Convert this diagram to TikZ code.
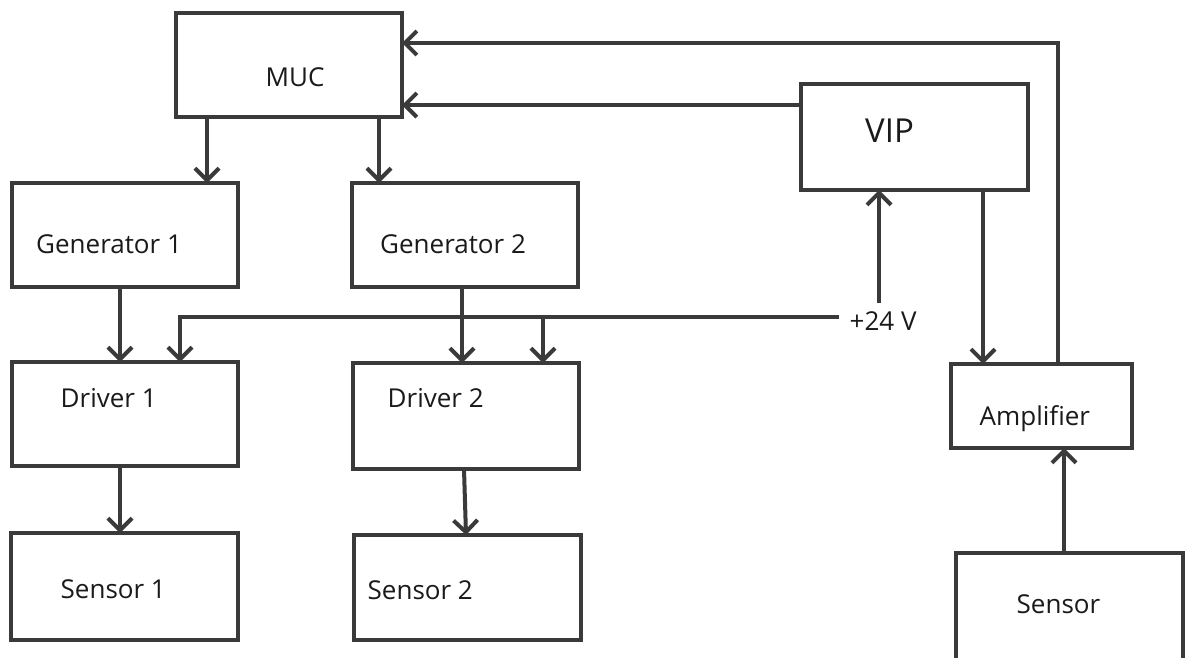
\documentclass[tikz,border=0pt]{standalone}
\usepackage{fontspec}
\setmainfont[Ligatures=NoCommon]{Open Sans}
\usetikzlibrary{arrows.meta}
\definecolor{ink}{HTML}{3A3A3A}
\definecolor{txt}{HTML}{1A1A1A}
\tikzset{
  blk/.style={draw=ink, line width=4pt, rectangle, outer sep=0pt, inner sep=0pt},
  lbl/.style={anchor=base west, inner sep=0pt, text=txt, font=\fontsize{26}{32}\selectfont},
  big/.style={lbl, font=\fontsize{33}{40}\selectfont},
  arr/.style={draw=ink, line width=4pt, line join=miter,
    -{Straight Barb[length=12pt, width=24pt, line width=4pt]}},
  wire/.style={draw=ink, line width=4pt, line join=miter}
}
\begin{document}
\begin{tikzpicture}[x=1pt, y=-1pt]
\clip (0,0) rectangle (1190,657);
\fill[white] (0,0) rectangle (1190,657);

% blocks
\node[blk, minimum width=226pt, minimum height=104pt] (muc)  at (289,65)    {};
\node[blk, minimum width=227pt, minimum height=106pt] (vip)  at (914.5,137) {};
\node[blk, minimum width=226pt, minimum height=104pt] (gen1) at (125,235)   {};
\node[blk, minimum width=226pt, minimum height=104pt] (gen2) at (465,235)   {};
\node[blk, minimum width=226pt, minimum height=104pt] (drv1) at (125,414)   {};
\node[blk, minimum width=226pt, minimum height=106pt] (drv2) at (466,416)   {};
\node[blk, minimum width=227pt, minimum height=107pt] (sen1) at (124.5,586.5) {};
\node[blk, minimum width=227pt, minimum height=105pt] (sen2) at (467.5,587.5) {};
\node[blk, minimum width=181pt, minimum height=84pt]  (amp)  at (1041.5,406) {};
\node[blk, minimum width=227pt, minimum height=147pt] (sen)  at (1069.5,626.5) {};

% labels
\node[lbl] (tmuc)  at (265.5,86)  {MUC};
\node[big] (tvip)  at (865,142)   {VIP};
\node[lbl] (tgen1) at (36,253)    {Generator 1};
\node[lbl] (tgen2) at (380,253)   {Generator 2};
\node[lbl] (tdrv1) at (60.5,407)  {Driver 1};
\node[lbl] (tdrv2) at (387.5,407) {Driver 2};
\node[lbl] (tsen1) at (60.5,598)  {Sensor 1};
\node[lbl] (tsen2) at (367.5,599) {Sensor 2};
\node[lbl] (tamp)  at (979.5,425) {Amplifier};
\node[lbl] (tsen)  at (1016.5,613) {Sensor};
\node[lbl] (tv24)  at (849.5,330) {+24 V};

% control paths
\draw[arr] (muc.south -| 207,0) -- (gen1.north -| 207,0);
\draw[arr] (muc.south -| 379,0) -- (gen2.north -| 379,0);
\draw[arr] (gen1.south -| 120,0) -- (drv1.north -| 120,0);
\draw[arr] (gen2.south -| 462,0) -- (drv2.north -| 462,0);
\draw[arr] (drv1.south -| 120,0) -- (sen1.north -| 120,0);
\draw[arr] (drv2.south -| 464,0) -- (sen2.north -| 466,0);

% +24 V supply
\coordinate (v24) at (839,317);
\coordinate (tap) at (543,317);
\coordinate (vin) at (879,303);
\draw[arr] (v24) -- (180,317) -- (drv1.north -| 180,0);
\draw[arr] (tap) -- (drv2.north -| 543,0);
\draw[arr] (vin) -- (vip.south -| vin);

% measuring chain
\draw[arr] (vip.south -| 983,0) -- (amp.north -| 983,0);
\draw[arr] (sen.north -| 1064,0) -- (amp.south -| 1064,0);
\draw[arr] (vip.west |- 0,105) -- (muc.east |- 0,105);
\draw[arr] (amp.north -| 1058,0) -- (1058,43) -- (muc.east |- 0,43);
\end{tikzpicture}
\end{document}
